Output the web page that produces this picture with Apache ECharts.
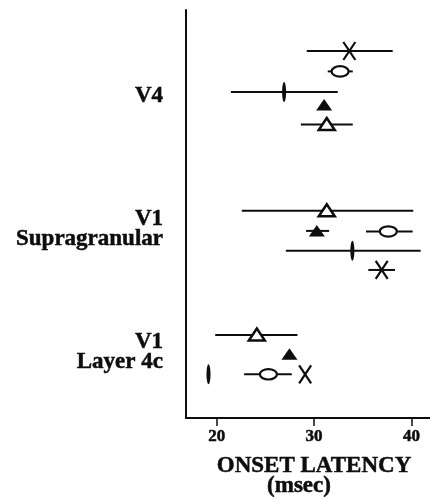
<!DOCTYPE html>
<html>
<head>
<meta charset="utf-8">
<script src="https://cdn.jsdelivr.net/npm/echarts@6/dist/echarts.min.js"></script>
<style>
  html, body { margin: 0; padding: 0; background: #ffffff; }
  #chart { width: 430px; height: 497px; }
</style>
</head>
<body>
<div id="chart"></div>
<script>
// Onset latency (msec) axis
const latencyMin = 16.85;
const latencyMax = 41.9;
const tickValues = [20, 30, 40];

// Vertical row positions (row units, top = 0)
const rowMax = 21;

// Area labels and the rows they sit beside
const groupNames = ['V4', 'V1\nSupragranular', 'V1\nLayer 4c'];
const groupRows = [4.45, 11.3, 17.6];

// Cross marker
const crossRows = [2.11, 13.38, 18.75];
const crossValues = [33.62, 36.94, 29.08];
const crossLow = [29.25, 35.57, null];
const crossHigh = [38.07, 38.31, null];

// Open ellipse marker
const ovalRows = [3.16, 11.40, 18.75];
const ovalValues = [32.67, 37.62, 25.31];
const ovalLow = [31.4, 35.33, 22.82];
const ovalHigh = [33.97, 40.12, 27.71];

// Vertical bar marker
const barRows = [4.22, 12.39, 18.75];
const barValues = [26.92, 33.93, 19.16];
const barLow = [21.46, 27.1, null];
const barHigh = [32.43, 40.94, null];

// Filled triangle marker
const solidTriRows = [4.89, 11.37, 17.72];
const solidTriValues = [31.03, 30.28, 27.47];
const solidTriLow = [null, 29.18, null];
const solidTriHigh = [null, 31.54, null];

// Open triangle marker
const openTriRows = [5.89, 10.33, 16.73];
const openTriValues = [31.3, 31.3, 24.12];
const openTriLow = [28.64, 22.58, 19.85];
const openTriHigh = [33.97, 40.18, 28.29];

const ink = '#0d0d0d';
const serif = '"Liberation Serif", "Times New Roman", serif';

function buildData(rows, values) {
  return rows.map((r, i) => [values[i], r]);
}

// Draws a whisker line plus a marker shape for each point
function makeSeries(name, rows, values, lows, highs, drawMarker) {
  return {
    name: name,
    type: 'custom',
    clip: false,
    encode: { x: 0, y: 1 },
    data: buildData(rows, values),
    renderItem: function (params, api) {
      const i = params.dataIndex;
      const row = api.value(1);
      const c = api.coord([api.value(0), row]);
      const children = [];
      if (lows[i] != null && highs[i] != null) {
        const a = api.coord([lows[i], row]);
        const b = api.coord([highs[i], row]);
        children.push({
          type: 'line',
          shape: { x1: a[0], y1: a[1], x2: b[0], y2: b[1] },
          style: { stroke: ink, lineWidth: 2 }
        });
      }
      drawMarker(c[0], c[1]).forEach(el => children.push(el));
      return { type: 'group', children: children };
    }
  };
}

const drawCross = (x, y) => [
  { type: 'line', shape: { x1: x - 6, y1: y - 9, x2: x + 6, y2: y + 9 }, style: { stroke: ink, lineWidth: 2.2 } },
  { type: 'line', shape: { x1: x + 6, y1: y - 9, x2: x - 6, y2: y + 9 }, style: { stroke: ink, lineWidth: 2.2 } }
];
const drawOval = (x, y) => [
  { type: 'ellipse', shape: { cx: x, cy: y, rx: 8.5, ry: 5.2 }, style: { fill: '#ffffff', stroke: ink, lineWidth: 2.2 } }
];
const drawBar = (x, y) => [
  { type: 'ellipse', shape: { cx: x, cy: y, rx: 2, ry: 10 }, style: { fill: ink } }
];
const drawSolidTri = (x, y) => [
  { type: 'polygon', shape: { points: [[x, y - 6], [x + 8, y + 5.5], [x - 8, y + 5.5]] }, style: { fill: ink } }
];
const drawOpenTri = (x, y) => [
  { type: 'polygon', shape: { points: [[x, y - 6.5], [x + 8, y + 5.5], [x - 8, y + 5.5]] }, style: { fill: '#ffffff', stroke: ink, lineWidth: 2.5, lineJoin: 'miter' } }
];

const heavyText = { textBorderColor: ink, textBorderWidth: 0.5 };

const chart = echarts.init(document.getElementById('chart'), null, { renderer: 'canvas' });

chart.setOption({
  animation: false,
  backgroundColor: '#ffffff',
  grid: { left: 186, right: 0, top: 10, bottom: 79, containLabel: false },
  xAxis: {
    type: 'value',
    min: latencyMin,
    max: latencyMax,
    axisLine: { show: true, onZero: false, lineStyle: { color: ink, width: 2 } },
    axisTick: { show: true, customValues: tickValues, length: 8, lineStyle: { color: ink, width: 1.5 } },
    axisLabel: Object.assign({
      customValues: tickValues,
      margin: 10,
      color: ink,
      fontFamily: serif,
      fontWeight: 'bold',
      fontSize: 17
    }, heavyText),
    splitLine: { show: false }
  },
  yAxis: {
    type: 'value',
    inverse: true,
    min: 0,
    max: rowMax,
    axisLine: { show: true, onZero: false, lineStyle: { color: ink, width: 2 } },
    axisTick: { show: false },
    axisLabel: { show: false },
    splitLine: { show: false }
  },
  graphic: [
    {
      type: 'text', x: 314, y: 466,
      style: { text: 'ONSET LATENCY', fill: ink, stroke: ink, lineWidth: 0.5, font: 'bold 23px ' + serif, textAlign: 'center', textVerticalAlign: 'middle' }
    },
    {
      type: 'text', x: 299, y: 486,
      style: { text: '(msec)', fill: ink, stroke: ink, lineWidth: 0.5, font: 'bold 23px ' + serif, textAlign: 'center', textVerticalAlign: 'middle' }
    }
  ],
  series: [
    {
      name: 'areas',
      type: 'scatter',
      silent: true,
      clip: false,
      symbolSize: 0,
      data: groupRows.map(r => [latencyMin, r]),
      label: Object.assign({
        show: true,
        position: 'left',
        distance: 23,
        align: 'right',
        formatter: p => groupNames[p.dataIndex],
        color: ink,
        opacity: 1,
        fontFamily: serif,
        fontWeight: 'bold',
        fontSize: 23,
        lineHeight: 20
      }, heavyText)
    },
    makeSeries('cross', crossRows, crossValues, crossLow, crossHigh, drawCross),
    makeSeries('oval', ovalRows, ovalValues, ovalLow, ovalHigh, drawOval),
    makeSeries('bar', barRows, barValues, barLow, barHigh, drawBar),
    makeSeries('solidTriangle', solidTriRows, solidTriValues, solidTriLow, solidTriHigh, drawSolidTri),
    makeSeries('openTriangle', openTriRows, openTriValues, openTriLow, openTriHigh, drawOpenTri)
  ]
});
</script>
</body>
</html>
